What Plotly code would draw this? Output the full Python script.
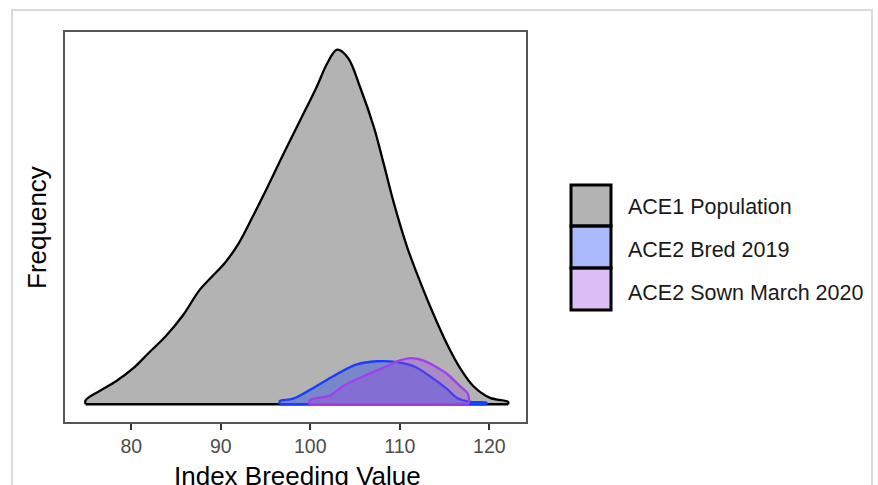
import plotly.graph_objects as go

# ---------------- data ----------------
ace1_x = [74.9, 76.5, 78.3, 80.2, 82.0, 83.9, 85.8, 87.6, 89.0, 90.5, 92.0, 93.5, 95.2,
          97.0, 98.9, 100.7, 101.9, 103.0, 104.2, 105.6, 107.1, 108.2, 109.3, 110.8,
          112.3, 113.8, 115.3, 116.7, 118.2, 120.1, 122.1]
ace1_y = [0.0005, 0.0017, 0.0029, 0.0045, 0.0065, 0.0086, 0.0112, 0.0143, 0.0160, 0.0178,
          0.0202, 0.0234, 0.0272, 0.0314, 0.0357, 0.0398, 0.0428, 0.0445, 0.0435, 0.0397,
          0.0348, 0.0302, 0.0254, 0.0198, 0.0153, 0.0112, 0.0075, 0.0046, 0.0023, 0.0008,
          0.0003]

bred_x = [96.6, 98.1, 100.7, 103.0, 105.2, 107.4, 109.7, 111.5, 113.4, 115.3, 116.4, 117.9, 119.7]
bred_y = [0.0004, 0.0007, 0.0023, 0.0038, 0.0050, 0.0054, 0.0053, 0.0048, 0.0035, 0.0019,
          0.0008, 0.0003, 0.0002]

sown_x = [99.9, 100.4, 102.2, 103.7, 105.9, 108.2, 110.0, 111.2, 112.6, 114.5, 115.3,
          116.7, 117.5, 117.7]
sown_y = [0.0004, 0.0007, 0.0011, 0.0023, 0.0035, 0.0046, 0.0055, 0.0058, 0.0055, 0.0044,
          0.0038, 0.0023, 0.0015, 0.0010]

series_names = ["ACE1 Population", "ACE2 Bred 2019", "ACE2 Sown March 2020"]
x_ticks = [80, 90, 100, 110, 120]

# ---------------- styles ----------------
FONT = "Liberation Sans, Arial, sans-serif"
fills = ["#b3b3b3", "rgba(10,55,245,0.35)", "rgba(155,66,226,0.35)"]
lines = ["#000000", "#1a3cff", "#a23ef0"]

fig = go.Figure()
for xs, ys, fc, lc, nm in zip([ace1_x, bred_x, sown_x], [ace1_y, bred_y, sown_y],
                              fills, lines, series_names):
    px = [xs[0]] + xs + [xs[-1]]
    py = [0] + ys + [0]
    fig.add_trace(go.Scatter(x=px, y=py, mode="lines", fill="tozeroy", fillcolor=fc,
                             line=dict(color=lc, width=2.3, shape="spline", smoothing=1.0),
                             name=nm, showlegend=False, hoverinfo="skip"))
    fig.add_trace(go.Scatter(x=[xs[0], xs[-1]], y=[0, 0], mode="lines",
                             line=dict(color=lc, width=2.6), showlegend=False,
                             hoverinfo="skip"))

ymax = max(ace1_y)
L, R, T, B = 65, 352, 32, 63
W, H = 878, 485
pw, ph = W - L - R, H - T - B

def px2x(p):
    return (p - L) / pw

def py2y(p):
    return (H - B - p) / ph

fig.update_layout(
    width=W, height=H, autosize=False,
    margin=dict(l=L, r=R, t=T, b=B),
    paper_bgcolor="white", plot_bgcolor="white",
    font=dict(family=FONT),
    xaxis=dict(range=[72.6, 124.1], tickvals=x_ticks, ticktext=[str(v) for v in x_ticks],
               ticks="outside", ticklen=6, tickwidth=1.5, tickcolor="#333333",
               tickfont=dict(size=19.5, color="#4d4d4d", family=FONT),
               showline=True, mirror=True, linecolor="#555555", linewidth=2,
               showgrid=False, zeroline=False),
    yaxis=dict(range=[-0.05 * ymax, 1.05 * ymax], showticklabels=False, ticks="",
               showline=True, mirror=True, linecolor="#555555", linewidth=2,
               showgrid=False, zeroline=False),
)

shapes = []
# outer frame of the image
shapes.append(dict(type="rect", xref="paper", yref="paper",
                   x0=px2x(12), x1=px2x(872), y0=py2y(500), y1=py2y(10),
                   line=dict(color="#dcdad2", width=2), layer="below"))
# legend keys
key_y = [(185, 226), (226, 268), (268, 310)]
key_fill = ["#b3b3b3", "rgba(10,55,245,0.35)", "rgba(155,66,226,0.35)"]
for (a, b), fc in zip(key_y, key_fill):
    shapes.append(dict(type="rect", xref="paper", yref="paper",
                       x0=px2x(571), x1=px2x(611), y0=py2y(b), y1=py2y(a),
                       fillcolor=fc, line=dict(color="black", width=3)))
fig.update_layout(shapes=shapes)

ann = []
text_y = [206.5, 249.5, 292.5]
for nm, ty in zip(series_names, text_y):
    ann.append(dict(text=nm, xref="paper", yref="paper", x=px2x(626), y=py2y(ty),
                    xanchor="left", yanchor="middle", showarrow=False,
                    font=dict(size=21.5, color="#1a1a1a", family=FONT)))
ann.append(dict(text="Index Breeding Value", xref="paper", yref="paper",
                x=px2x(297), y=py2y(476), xanchor="center", yanchor="middle",
                showarrow=False, font=dict(size=26, color="black", family=FONT)))
ann.append(dict(text="Frequency", xref="paper", yref="paper",
                x=px2x(37), y=py2y(228), xanchor="center", yanchor="middle",
                textangle=-90, showarrow=False,
                font=dict(size=26, color="black", family=FONT)))
fig.update_layout(annotations=ann)

fig.write_html("out.html")
